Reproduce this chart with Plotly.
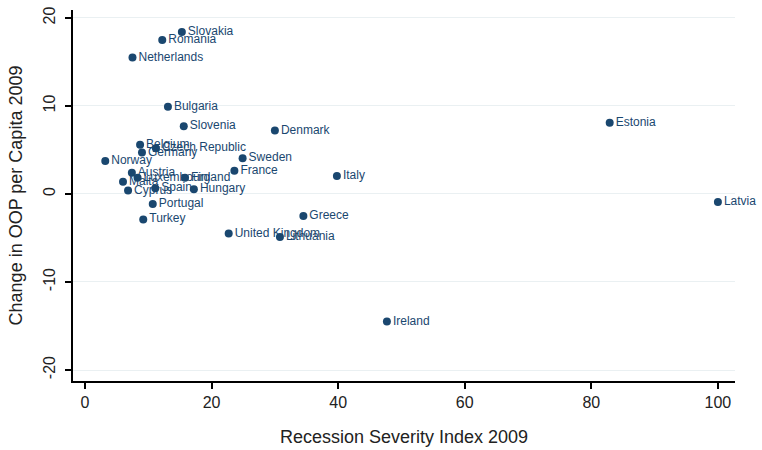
import plotly.graph_objects as go

# Recession severity vs. change in out-of-pocket spending, 2009
countries = ["Slovakia", "Romania", "Netherlands", "Bulgaria", "Slovenia", "Denmark",
             "Estonia", "Belgium", "Czech Republic", "Germany", "Norway", "Sweden",
             "France", "Austria", "Luxembourg", "Finland", "Malta", "Spain", "Hungary",
             "Cyprus", "Portugal", "Turkey", "Italy", "Greece", "United Kingdom",
             "Lithuania", "Ireland", "Latvia"]
severity = [15.3, 12.2, 7.5, 13.1, 15.6, 30.0,
            82.9, 8.7, 11.2, 9.0, 3.2, 24.9,
            23.6, 7.4, 8.3, 15.8, 6.0, 11.1, 17.2,
            6.8, 10.7, 9.2, 39.8, 34.5, 22.7,
            30.8, 47.7, 100.0]
oop_change = [18.4, 17.5, 15.5, 9.9, 7.7, 7.2,
              8.1, 5.6, 5.2, 4.7, 3.75, 4.05,
              2.65, 2.4, 1.85, 1.85, 1.4, 0.65, 0.53,
              0.38, -1.15, -2.9, 2.05, -2.5, -4.5,
              -4.9, -14.5, -0.9]

x_ticks = [0, 20, 40, 60, 80, 100]
y_ticks = [-20, -10, 0, 10, 20]
y_tick_text = ["-20", "-10", "0", "10", "20"]

navy = "#1a476f"
label_font = "Liberation Sans, Arial, Helvetica, sans-serif"

fig = go.Figure(go.Scatter(
    x=severity, y=oop_change, text=countries,
    mode="markers+text", textposition="middle right",
    marker=dict(color=navy, size=8, line=dict(width=0)),
    textfont=dict(color=navy, size=12, family=label_font),
    cliponaxis=False, hoverinfo="skip",
))

fig.update_layout(
    width=762, height=450,
    margin=dict(l=73, r=27, t=10, b=69),
    paper_bgcolor="white", plot_bgcolor="white",
    showlegend=False,
    font=dict(family=label_font, color="#222222"),
)
fig.update_xaxes(
    range=[-1.9, 102.7], tickvals=x_ticks, automargin=False,
    showgrid=False, zeroline=False,
    showline=True, linecolor="black", linewidth=1.5,
    ticks="outside", ticklen=6, tickcolor="black", tickwidth=1.5,
    tickfont=dict(size=16, color="#222222"),
    title=dict(text="Recession Severity Index 2009", font=dict(size=18, color="#222222"), standoff=20),
)
fig.update_yaxes(
    range=[-21.25, 20.9], tickvals=y_ticks, ticktext=y_tick_text, tickangle=-90,
    automargin=False,
    showgrid=True, gridcolor="#eaf0f2", gridwidth=1.2, zeroline=False,
    showline=True, linecolor="black", linewidth=1.5,
    ticks="outside", ticklen=6, tickcolor="black", tickwidth=1.5,
    ticklabelstandoff=4,
    tickfont=dict(size=16, color="#222222"),
    title=dict(text="Change in OOP per Capita 2009", font=dict(size=18, color="#222222"), standoff=14),
)

fig.write_html("out.html")
